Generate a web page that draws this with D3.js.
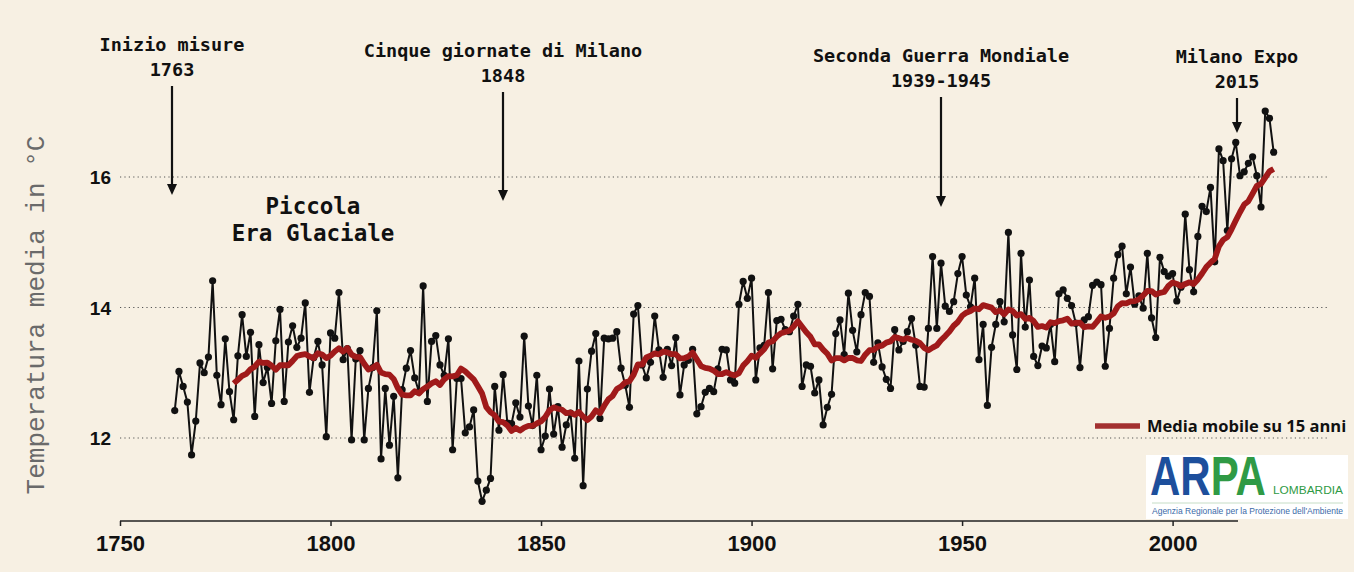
<!DOCTYPE html>
<html><head><meta charset="utf-8">
<script src="https://cdn.jsdelivr.net/npm/d3@7"></script>
<style>
html,body{margin:0;padding:0;background:#f7f0e3;}
svg{display:block;}
</style></head><body>
<svg id="chart" width="1354" height="572"></svg>
<script>
// ---- Data: annual mean temperature, Milano Brera (°C) ----
const firstYear = 1763;
const temps1763_1799 = [12.42,13.02,12.79,12.55,11.74,12.26,13.15,13.00,13.24,14.41,
  12.96,12.51,13.52,12.71,12.28,13.26,13.89,13.25,13.62,12.33,
  13.43,12.85,13.08,12.53,13.49,13.97,12.56,13.47,13.72,13.39,
  13.53,14.07,12.70,13.23,13.48,13.12,12.02];
const temps1800_1849 = [13.61,13.53,14.23,13.20,13.37,11.97,13.21,13.34,11.97,12.76,
  13.08,13.95,11.68,12.76,11.89,12.64,11.39,12.74,13.07,13.34,
  12.92,12.71,14.33,12.56,13.48,13.57,13.12,12.96,13.52,11.82,
  12.91,12.91,12.08,12.17,12.43,11.34,11.03,11.20,11.38,12.79,
  12.12,12.97,12.23,12.22,12.54,12.32,13.56,12.49,12.19,12.96];
const temps1850_1899 = [11.82,12.03,12.75,12.06,12.48,11.86,12.20,12.38,11.69,13.18,
  11.27,12.75,13.33,13.60,12.30,13.53,13.52,13.53,13.63,13.07,
  12.81,12.47,13.90,14.03,13.12,12.92,13.16,13.87,13.35,12.93,
  13.36,13.11,13.54,12.66,13.12,13.19,13.36,12.37,12.48,12.70,
  12.76,12.71,13.06,13.36,13.35,12.89,12.84,14.05,14.40,14.14];
const temps1900_1949 = [14.45,12.89,13.38,13.42,14.23,13.06,13.80,13.82,13.66,13.63,
  13.87,14.05,12.79,13.12,13.10,12.69,12.89,12.20,12.47,12.67,
  13.60,13.81,13.28,14.22,13.65,13.32,13.89,14.23,14.17,13.16,
  13.46,13.09,12.90,12.76,13.66,13.35,13.48,13.63,13.83,13.42,
  12.79,12.78,13.68,14.78,13.68,14.68,14.02,13.94,14.09,14.52];
const temps1950_1999 = [14.78,14.19,14.01,14.45,13.20,13.74,12.50,13.39,13.74,14.09,
  13.78,15.15,13.58,13.05,14.83,13.70,14.42,13.25,13.11,13.41,
  13.38,13.74,13.17,14.21,14.27,14.14,14.03,13.76,13.08,13.81,
  13.86,14.34,14.39,14.35,13.10,13.68,14.45,14.81,14.94,14.21,
  14.62,14.05,14.18,13.99,14.83,13.84,13.54,14.77,14.55,14.48];
const temps2000_2024 = [14.52,14.10,14.31,15.43,14.58,14.24,15.09,15.55,15.47,15.84,
  14.70,16.43,16.25,15.18,16.28,16.53,16.02,16.08,16.21,16.31,
  16.02,15.54,17.01,16.90,16.38];
const xTicks = [1750,1800,1850,1900,1950,2000];
const yTicks = [12,14,16];
const movingWindow = 15;
const yTitle = "Temperatura media in °C";
const legendLabel = "Media mobile su 15 anni";

// ---- Build series ----
const temps = [].concat(temps1763_1799,temps1800_1849,temps1850_1899,temps1900_1949,temps1950_1999,temps2000_2024);
const series = temps.map((t,i)=>({year:firstYear+i, t}));
const moving = [];
for (let i = movingWindow-1; i < series.length; i++) {
  moving.push({year: series[i].year, t: d3.mean(series.slice(i-movingWindow+1, i+1), d=>d.t)});
}

// ---- Scales ----
const svg = d3.select("#chart");
const x = d3.scaleLinear().domain([1750, 2000]).range([120, 1172.6]);
const y = d3.scaleLinear().domain([12, 16]).range([438, 177]);

svg.append("rect").attr("width",1354).attr("height",572).attr("fill","#f7f0e3");

// grid
svg.append("g").selectAll("line").data(yTicks).join("line")
  .attr("x1",120).attr("x2",1330)
  .attr("y1",d=>y(d)).attr("y2",d=>y(d))
  .attr("stroke","#555").attr("stroke-width",1.1).attr("stroke-dasharray","1.2,3.2");

// y labels
svg.append("g").selectAll("text").data(yTicks).join("text")
  .attr("x",111).attr("y",d=>y(d)+7)
  .attr("text-anchor","end")
  .attr("font-family","'Liberation Sans', Arial, sans-serif")
  .attr("font-weight","bold").attr("font-size",19).attr("fill","#111")
  .text(d=>d);

// x axis
const xAxis = d3.axisBottom(x).tickValues(xTicks).tickFormat(d3.format("d")).tickSize(5).tickSizeOuter(0);
const gx = svg.append("g").attr("transform","translate(0,521)").call(xAxis);
gx.select(".domain").remove();
gx.selectAll(".tick line").attr("stroke","#222").attr("stroke-width",1.5);
gx.selectAll(".tick text")
  .attr("y",10).attr("dy","0.9em")
  .attr("font-family","'Liberation Sans Narrow', 'Arial Narrow', 'Liberation Sans', sans-serif")
  .attr("font-weight","bold").attr("font-size",22).attr("fill","#111");
gx.append("line").attr("x1",120).attr("x2",1238).attr("y1",0).attr("y2",0)
  .attr("stroke","#222").attr("stroke-width",1.6);

// y title
svg.append("text")
  .attr("transform","translate(44,315) rotate(-90)")
  .attr("text-anchor","middle")
  .attr("font-family","'Liberation Mono', 'Courier New', monospace")
  .attr("font-size",26).attr("fill","#6a6a6a")
  .text(yTitle);

// annual line + dots
const line = d3.line().x(d=>x(d.year)).y(d=>y(d.t));
svg.append("path").datum(series).attr("d",line)
  .attr("fill","none").attr("stroke","#111").attr("stroke-width",2).attr("stroke-linejoin","round");
svg.append("g").selectAll("circle").data(series).join("circle")
  .attr("cx",d=>x(d.year)).attr("cy",d=>y(d.t)).attr("r",3.6).attr("fill","#111");

// moving average
svg.append("path").datum(moving).attr("d",line)
  .attr("fill","none").attr("stroke","#a01a1a").attr("stroke-width",5.8)
  .attr("stroke-linejoin","round").attr("stroke-linecap","butt");

// annotations
const annFont = "'DejaVu Sans Mono', 'Liberation Mono', monospace";
function annot(cx, lines, y0, arrowTop, arrowBottom) {
  lines.forEach((s,i)=>{
    svg.append("text").attr("x",cx).attr("y",y0+i*25).attr("text-anchor","middle")
      .attr("font-family",annFont).attr("font-weight","bold").attr("font-size",18.5)
      .attr("fill","#111").text(s);
  });
  svg.append("line").attr("x1",cx).attr("x2",cx).attr("y1",arrowTop).attr("y2",arrowBottom-8)
    .attr("stroke","#111").attr("stroke-width",2.2);
  svg.append("path").attr("d",`M${cx-5},${arrowBottom-11}L${cx+5},${arrowBottom-11}L${cx},${arrowBottom}Z`)
    .attr("fill","#111");
}
annot(172, ["Inizio misure","1763"], 51, 86, 195);
annot(503, ["Cinque giornate di Milano","1848"], 57, 92, 201);
annot(941, ["Seconda Guerra Mondiale","1939-1945"], 62, 97, 207);
annot(1237, ["Milano Expo","2015"], 63, 98, 133);

["Piccola","Era Glaciale"].forEach((s,i)=>{
  svg.append("text").attr("x",313).attr("y",214+i*27).attr("text-anchor","middle")
    .attr("font-family",annFont).attr("font-weight","bold").attr("font-size",22.5).attr("fill","#111").text(s);
});

// legend
svg.append("line").attr("x1",1095).attr("x2",1140).attr("y1",426).attr("y2",426)
  .attr("stroke","#a33030").attr("stroke-width",5.5);
svg.append("text").attr("x",1147).attr("y",432)
  .attr("font-family","'Open Sans', 'Noto Sans', sans-serif").attr("font-weight","bold")
  .attr("font-size",16.5).attr("fill","#111").text(legendLabel);

// logo
const logo = svg.append("g");
logo.append("rect").attr("x",1146).attr("y",455).attr("width",202).attr("height",64).attr("fill","#ffffff");
logo.append("text").attr("transform","translate(1150,495) scale(1,1.3)")
  .attr("font-family","'Liberation Sans', Arial, sans-serif").attr("font-weight","bold")
  .attr("font-size",42)
  .call(t=>{
    t.append("tspan").attr("fill","#1d4f9c").text("AR");
    t.append("tspan").attr("fill","#2f9a45").text("PA");
  });
logo.append("text").attr("x",1273).attr("y",494)
  .attr("font-family","'Liberation Sans', Arial, sans-serif")
  .attr("font-size",11).attr("textLength",70).attr("lengthAdjust","spacingAndGlyphs")
  .attr("fill","#2f9a45").text("LOMBARDIA");
logo.append("line").attr("x1",1152).attr("x2",1343).attr("y1",503).attr("y2",503)
  .attr("stroke","#b8d4b8").attr("stroke-width",0.8);
logo.append("text").attr("x",1152).attr("y",514)
  .attr("font-family","'Liberation Sans', Arial, sans-serif")
  .attr("font-size",8.5).attr("textLength",191).attr("lengthAdjust","spacingAndGlyphs")
  .attr("fill","#3a6aa8").text("Agenzia Regionale per la Protezione dell'Ambiente");
</script>
</body></html>
